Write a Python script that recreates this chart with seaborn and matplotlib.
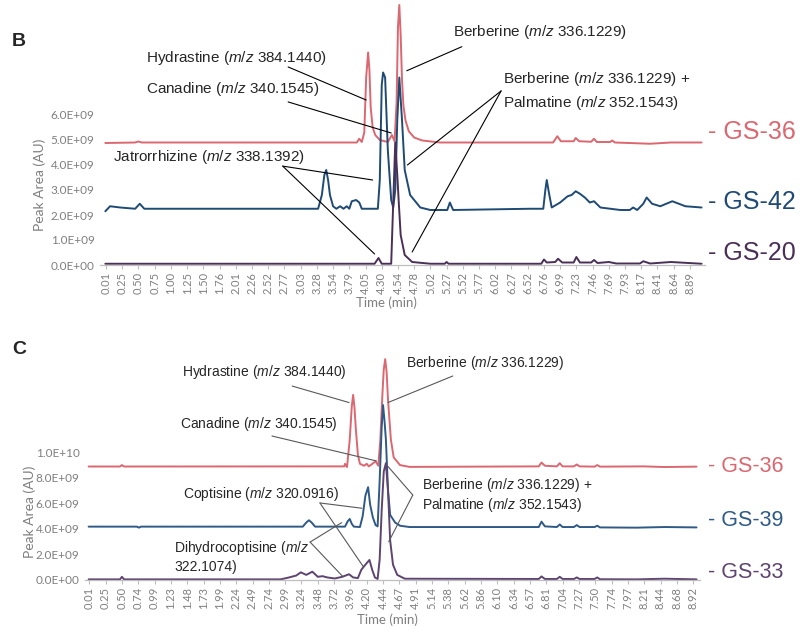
import numpy as np
import pandas as pd
import seaborn as sns
import matplotlib.pyplot as plt

sns.set_style('white')
plt.rcParams['font.family'] = ['Liberation Sans', 'DejaVu Sans']
plt.rcParams['mathtext.fontset'] = 'custom'
plt.rcParams['mathtext.rm'] = 'Liberation Sans'
plt.rcParams['mathtext.it'] = 'Liberation Sans:italic'

# time labels shown on the (category) x axis of each panel
b_ticks = [0.01, 0.25, 0.50, 0.75, 1.00, 1.25, 1.50, 1.76, 2.01, 2.26, 2.52, 2.77, 3.03,
           3.28, 3.54, 3.79, 4.05, 4.30, 4.54, 4.78, 5.02, 5.27, 5.52, 5.77, 6.02, 6.27,
           6.52, 6.76, 6.99, 7.23, 7.46, 7.69, 7.93, 8.17, 8.41, 8.64, 8.89]
c_ticks = [0.01, 0.25, 0.50, 0.74, 0.99, 1.23, 1.48, 1.73, 1.99, 2.24, 2.49, 2.74, 2.99,
           3.24, 3.48, 3.72, 3.96, 4.20, 4.44, 4.67, 4.91, 5.14, 5.38, 5.62, 5.86, 6.10,
           6.34, 6.57, 6.81, 7.04, 7.27, 7.50, 7.74, 7.97, 8.21, 8.44, 8.68, 8.92]

# y ticks, peak area in units of 1e9 AU
b_yticks = [0, 1, 2, 3, 4, 5, 6]
b_ylabels = ['0.0E+00', '1.0E+09', '2.0E+09', '3.0E+09', '4.0E+09', '5.0E+09', '6.0E+09']
c_yticks = [0, 2, 4, 6, 8, 10]
c_ylabels = ['0.0E+00', '2.0E+09', '4.0E+09', '6.0E+09', '8.0E+09', '1.0E+10']

# ---- panel B traces: time (min) / peak area (1e9 AU), offset as in the figure
b36_t = [0.0, 0.45, 0.50, 0.55, 3.91, 3.95, 3.99, 4.03, 4.06, 4.09, 4.11, 4.13, 4.16, 4.20,
         4.27, 4.39, 4.45, 4.49, 4.52, 4.54, 4.56, 4.58, 4.60, 4.62, 4.65, 4.70, 4.78, 4.90,
         5.17, 6.89, 6.95, 7.00, 7.19, 7.22, 7.27, 7.44, 7.48, 7.52, 7.71, 7.74, 7.78, 8.30,
         8.60, 9.07]
b36_y = [4.88, 4.9, 4.94, 4.9, 4.9, 5.05, 4.92, 5.3, 7.5, 8.5, 7.8, 6.3, 5.5, 5.2,
         5.0, 4.92, 5.2, 4.95, 6.5, 9.5, 10.4, 9.2, 7.4, 6.4, 5.8, 5.35, 5.1, 4.98,
         4.9, 4.9, 5.15, 4.95, 4.95, 5.08, 4.95, 4.93, 5.05, 4.92, 4.92, 4.98, 4.9, 4.85,
         4.9, 4.9]

b42_t = [0.0, 0.07, 0.22, 0.45, 0.52, 0.59, 3.30, 3.36, 3.40, 3.43, 3.46, 3.49, 3.54, 3.59,
         3.65, 3.70, 3.75, 3.79, 3.83, 3.90, 3.95, 3.99, 4.24, 4.27, 4.30, 4.32, 4.35, 4.39,
         4.44, 4.47, 4.50, 4.53, 4.56, 4.60, 4.64, 4.72, 4.87, 5.02, 5.28, 5.32, 5.37, 6.55,
         6.75, 6.78, 6.80, 6.83, 6.87, 6.99, 7.10, 7.16, 7.22, 7.28, 7.35, 7.42, 7.48, 7.57,
         7.86, 8.00, 8.05, 8.11, 8.20, 8.25, 8.33, 8.45, 8.62, 8.82, 9.07]
b42_y = [2.15, 2.35, 2.3, 2.25, 2.45, 2.25, 2.25, 2.8, 3.6, 3.8, 3.4, 2.8, 2.35, 2.25,
         2.35, 2.25, 2.35, 2.25, 2.55, 2.6, 2.5, 2.25, 2.25, 3.4, 7.2, 7.7, 7.5, 4.6,
         2.6, 2.3, 3.0, 5.8, 7.5, 5.8, 3.8, 2.8, 2.3, 2.2, 2.2, 2.5, 2.2, 2.25,
         2.25, 3.0, 3.4, 2.9, 2.3, 2.5, 2.75, 2.8, 2.95, 2.85, 2.7, 2.5, 2.55, 2.3,
         2.2, 2.2, 2.3, 2.2, 2.45, 2.7, 2.45, 2.35, 2.55, 2.35, 2.3]

b20_t = [0.0, 4.19, 4.25, 4.30, 4.44, 4.47, 4.50, 4.53, 4.55, 4.58, 4.64, 4.75, 5.02, 5.24,
         5.27, 5.30, 6.72, 6.76, 6.80, 6.92, 6.96, 7.02, 7.19, 7.23, 7.28, 7.44, 7.48, 7.53,
         7.69, 7.80, 8.15, 8.20, 8.30, 8.60, 9.07]
b20_y = [0.05, 0.05, 0.28, 0.05, 0.05, 2.5, 4.9, 3.6, 2.6, 1.2, 0.4, 0.12, 0.05, 0.05,
         0.12, 0.05, 0.05, 0.22, 0.1, 0.12, 0.25, 0.1, 0.1, 0.32, 0.1, 0.1, 0.2, 0.08,
         0.12, 0.06, 0.06, 0.15, 0.06, 0.12, 0.05]

# ---- panel C traces
c36_t = [0.0, 0.47, 0.50, 0.53, 3.87, 3.88, 3.91, 3.95, 3.98, 4.00, 4.02, 4.04, 4.07, 4.10,
         4.16, 4.20, 4.23, 4.27, 4.33, 4.37, 4.40, 4.43, 4.45, 4.47, 4.49, 4.51, 4.55, 4.59,
         4.68, 4.82, 6.70, 6.74, 6.79, 6.96, 7.00, 7.04, 7.20, 7.24, 7.28, 7.49, 7.53, 7.57,
         8.20, 8.50, 8.97]
c36_y = [8.89, 8.89, 9.0, 8.89, 8.9, 9.1, 8.85, 11.0, 13.6, 14.5, 13.5, 11.8, 9.8, 9.1,
         8.95, 9.1, 8.9, 9.05, 9.3, 8.95, 11.0, 14.5, 16.5, 17.3, 16.3, 14.1, 11.0, 9.6,
         9.0, 8.86, 8.9, 9.2, 8.95, 8.9, 9.15, 8.9, 8.9, 9.05, 8.9, 8.88, 9.0, 8.88,
         8.9, 8.85, 8.88]

c39_t = [0.0, 0.72, 0.75, 0.78, 3.26, 3.31, 3.35, 3.39, 3.44, 3.88, 3.92, 3.95, 3.98, 4.01,
         4.10, 4.14, 4.18, 4.22, 4.25, 4.29, 4.33, 4.36, 4.39, 4.42, 4.44, 4.46, 4.48, 4.51,
         4.54, 4.61, 4.68, 4.82, 6.70, 6.74, 6.79, 6.96, 7.00, 7.04, 7.20, 7.24, 7.28, 7.49,
         7.53, 7.57, 8.10, 8.50, 8.97]
c39_y = [4.18, 4.18, 4.1, 4.18, 4.18, 4.5, 4.68, 4.5, 4.18, 4.18, 4.6, 4.78, 4.4, 4.18,
         4.15, 5.0, 6.6, 7.27, 5.9, 4.9, 4.3, 4.2, 7.8, 12.0, 13.7, 12.5, 11.0, 7.0,
         5.1, 4.5, 4.25, 4.15, 4.15, 4.57, 4.2, 4.15, 4.35, 4.15, 4.15, 4.3, 4.15, 4.15,
         4.25, 4.12, 4.1, 4.15, 4.12]

c33_t = [0.0, 0.47, 0.50, 0.53, 2.92, 3.05, 3.16, 3.23, 3.31, 3.40, 3.48, 3.55, 3.62, 3.73,
         3.84, 3.94, 4.00, 4.07, 4.12, 4.18, 4.24, 4.28, 4.32, 4.36, 4.39, 4.42, 4.45, 4.48,
         4.51, 4.54, 4.58, 4.64, 4.75, 6.70, 6.74, 6.79, 6.96, 7.00, 7.04, 7.20, 7.24, 7.28,
         7.49, 7.53, 7.57, 8.10, 8.50, 8.97]
c33_y = [0.05, 0.05, 0.25, 0.05, 0.05, 0.2, 0.35, 0.6, 0.4, 0.65, 0.25, 0.3, 0.2, 0.12,
         0.25, 0.45, 0.2, 0.15, 0.8, 1.2, 1.57, 0.8, 0.2, 0.08, 1.6, 5.5, 8.5, 9.15,
         7.0, 3.1, 1.2, 0.4, 0.1, 0.08, 0.28, 0.08, 0.08, 0.25, 0.08, 0.08, 0.2, 0.08,
         0.08, 0.2, 0.06, 0.05, 0.1, 0.05]

RED = '#DB6770'
NAVY = '#1F4A74'
PURPLE = '#4A2F57'
BLUE_C = '#2F5A86'
PURPLE_C = '#5E4470'
GREY = '#7F7F7F'
TICKFONT = ['Lato', 'DejaVu Sans']


def to_pos(t, ticks):
    # excel category axis: labels are evenly spaced, so map time onto label index
    t = np.asarray(t, float)
    idx = np.arange(len(ticks))
    pos = np.interp(t, ticks, idx)
    lo = t < ticks[0]
    hi = t > ticks[-1]
    pos[lo] = (t[lo] - ticks[0]) / (ticks[1] - ticks[0])
    pos[hi] = idx[-1] + (t[hi] - ticks[-1]) / (ticks[-1] - ticks[-2])
    return pos


def mz(name, val):
    return name + r' ($\mathit{m/z}$ ' + val + ')'


def style_axis(ax, ticks, yticks, ylabels, xlim, ylim):
    ax.set_xlim(*xlim)
    ax.set_ylim(*ylim)
    ax.set_xticks(range(len(ticks)))
    ax.set_xticklabels([f'{v:.2f}' for v in ticks], rotation=90, family=TICKFONT,
                       fontsize=8, color=GREY)
    ax.set_yticks(yticks)
    ax.set_yticklabels(ylabels, family=TICKFONT, fontsize=8.5, color=GREY)
    ax.tick_params(axis='x', length=3, color='#BFBFBF', pad=2, bottom=True)
    ax.tick_params(axis='y', length=0, pad=4)
    for s in ['left', 'top', 'right']:
        ax.spines[s].set_visible(False)
    ax.spines['bottom'].set_color('#BFBFBF')
    ax.spines['bottom'].set_linewidth(0.9)
    ax.set_xlabel('')
    ax.set_ylabel('Peak Area (AU)', family=TICKFONT, fontsize=10, color=GREY)


def draw_traces(ax, ticks, traces):
    for t, y, col in traces:
        df = pd.DataFrame({'pos': to_pos(t, ticks), 'area': y})
        sns.lineplot(data=df, x='pos', y='area', ax=ax, color=col, lw=1.4,
                     estimator=None, sort=False)


def leader(ax, ticks, start, end, col):
    # start in axes fraction, end at (time, area) on the trace
    ax.annotate('', xy=(to_pos([end[0]], ticks)[0], end[1]), xycoords='data',
                xytext=start, textcoords='axes fraction',
                arrowprops=dict(arrowstyle='-', color=col, lw=0.8, shrinkA=0, shrinkB=0))


fig = plt.figure(figsize=(8, 6.28), dpi=100)

# ------------------------------------------------------------------ panel B
axb = fig.add_axes([100 / 800, 1 - 265 / 628, 605 / 800, 263 / 628])
draw_traces(axb, b_ticks, [(b36_t, b36_y, RED), (b42_t, b42_y, NAVY), (b20_t, b20_y, PURPLE)])
style_axis(axb, b_ticks, b_yticks, b_ylabels, ((100 - 106) / 16.22, (705 - 106) / 16.22), (0, 10.52))
axb.yaxis.set_label_coords(-0.09, 0.304)
axb.text(0.474, -0.142, 'Time (min)', transform=axb.transAxes, ha='center', va='center',
         family=TICKFONT, fontsize=9.5, color=GREY)

fs_b = 11
axb.text(0.076, 0.787, mz('Hydrastine', '384.1440'), transform=axb.transAxes, va='center', fontsize=fs_b)
axb.text(0.076, 0.669, mz('Canadine', '340.1545'), transform=axb.transAxes, va='center', fontsize=fs_b)
axb.text(0.0215, 0.411, mz('Jatrorrhizine', '338.1392'), transform=axb.transAxes, va='center', fontsize=fs_b)
axb.text(0.583, 0.886, mz('Berberine', '336.1229'), transform=axb.transAxes, va='center', fontsize=fs_b)
axb.text(0.666, 0.663, mz('Berberine', '336.1229') + ' +\n' + mz('Palmatine', '352.1543'),
         transform=axb.transAxes, va='center', fontsize=fs_b, linespacing=1.45)
leader(axb, b_ticks, (0.311, 0.753), (4.06, 6.6), 'black')
leader(axb, b_ticks, (0.311, 0.620), (4.44, 5.28), 'black')
leader(axb, b_ticks, (0.302, 0.376), (4.16, 3.4), 'black')
leader(axb, b_ticks, (0.302, 0.376), (4.19, 0.44), 'black')
leader(axb, b_ticks, (0.598, 0.830), (4.67, 7.77), 'black')
leader(axb, b_ticks, (0.663, 0.662), (4.68, 4.0), 'black')
leader(axb, b_ticks, (0.663, 0.662), (4.75, 0.52), 'black')

for lab, fy, col in [('- GS-36', 0.506, RED), ('- GS-42', 0.240, NAVY), ('- GS-20', 0.046, PURPLE)]:
    axb.text(1.005, fy, lab, transform=axb.transAxes, va='center', ha='left', fontsize=18, color=col)

# ------------------------------------------------------------------ panel C
axc = fig.add_axes([85 / 800, 1 - 580 / 628, 615 / 800, 240 / 628])
draw_traces(axc, c_ticks, [(c36_t, c36_y, RED), (c39_t, c39_y, BLUE_C), (c33_t, c33_y, PURPLE_C)])
style_axis(axc, c_ticks, c_yticks, c_ylabels, ((85 - 89.3) / 16.32, (700 - 89.3) / 16.32), (0, 18.8))
axc.yaxis.set_label_coords(-0.08, 0.283)
axc.text(0.491, -0.165, 'Time (min)', transform=axc.transAxes, ha='center', va='center',
         family=TICKFONT, fontsize=9.5, color=GREY)

fs_c = 10
LC = '#595959'
axc.text(0.158, 0.867, mz('Hydrastine', '384.1440'), transform=axc.transAxes, va='center', fontsize=fs_c)
axc.text(0.154, 0.650, mz('Canadine', '340.1545'), transform=axc.transAxes, va='center', fontsize=fs_c)
axc.text(0.159, 0.358, mz('Coptisine', '320.0916'), transform=axc.transAxes, va='center', fontsize=fs_c)
axc.text(0.145, 0.098, 'Dihydrocoptisine ($\\mathit{m/z}$\n322.1074)', transform=axc.transAxes,
         va='center', fontsize=fs_c)
axc.text(0.522, 0.904, mz('Berberine', '336.1229'), transform=axc.transAxes, va='center', fontsize=fs_c)
axc.text(0.548, 0.354, mz('Berberine', '336.1229') + ' +\n' + mz('Palmatine', '352.1543'),
         transform=axc.transAxes, va='center', fontsize=fs_c)
leader(axc, c_ticks, (0.337, 0.808), (3.94, 13.9), LC)
leader(axc, c_ticks, (0.304, 0.600), (4.34, 9.33), LC)
leader(axc, c_ticks, (0.382, 0.321), (4.13, 5.62), LC)
leader(axc, c_ticks, (0.382, 0.321), (4.15, 1.04), LC)
leader(axc, c_ticks, (0.366, 0.158), (3.83, 4.49), LC)
leader(axc, c_ticks, (0.366, 0.158), (3.85, 0.26), LC)
leader(axc, c_ticks, (0.598, 0.850), (4.51, 13.9), LC)
leader(axc, c_ticks, (0.533, 0.354), (4.51, 8.89), LC)
leader(axc, c_ticks, (0.533, 0.354), (4.52, 3.0), LC)

for lab, fy, col in [('- GS-36', 0.471, RED), ('- GS-39', 0.250, BLUE_C), ('- GS-33', 0.033, PURPLE_C)]:
    axc.text(1.013, fy, lab, transform=axc.transAxes, va='center', ha='left', fontsize=15.5, color=col)

fig.text(12 / 800, 1 - 42 / 628, 'B', fontsize=14, fontweight='bold', va='center')
fig.text(12 / 800, 1 - 350 / 628, 'C', fontsize=14, fontweight='bold', va='center')

fig.savefig('out.png', dpi=100)
